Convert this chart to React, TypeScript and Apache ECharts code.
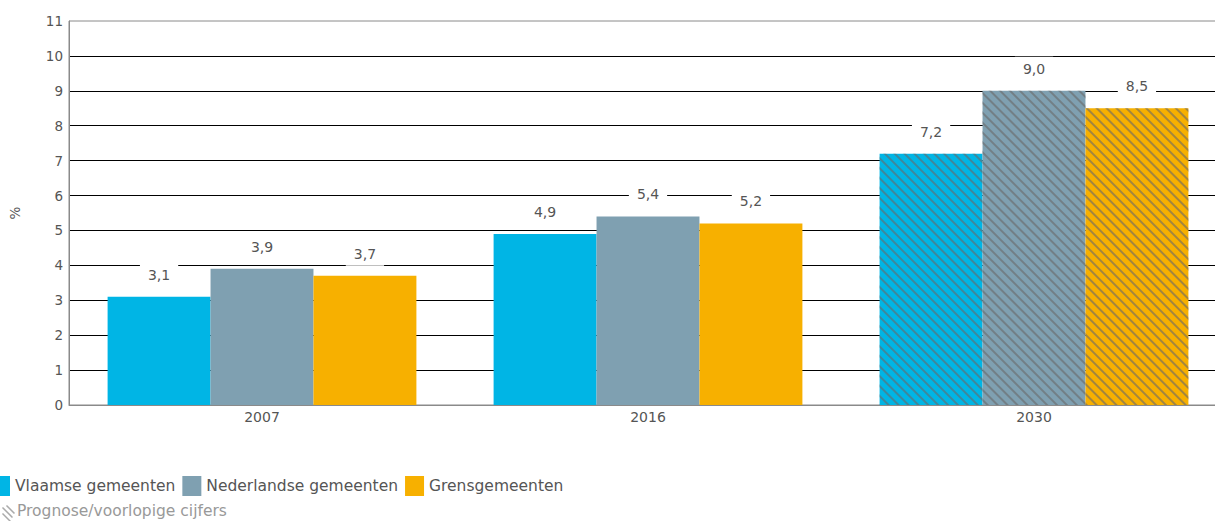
import React, { useEffect, useRef } from "react";
import * as echarts from "echarts";

const categories = ["2007", "2016", "2030"];
const vlaamse = [3.1, 4.9, 7.2];
const nederlandse = [3.9, 5.4, 9.0];
const grens = [3.7, 5.2, 8.5];
const prognose = [false, false, true];
const seriesNames = ["Vlaamse gemeenten", "Nederlandse gemeenten", "Grensgemeenten"];
const colors = ["#00b5e5", "#7fa0b1", "#f7b000"];

const FONT = "DejaVu Sans";

const decal = {
  symbol: "rect",
  symbolSize: 1,
  dashArrayX: [1, 0],
  dashArrayY: [1.4, 4.6],
  rotation: Math.PI / 4,
  color: "rgba(105,105,105,0.6)",
};

function buildData(values: number[]) {
  return values.map((v, i) =>
    prognose[i] ? { value: v, itemStyle: { decal } } : { value: v }
  );
}

const fmt = (p: any) => Number(p.value).toFixed(1).replace(".", ",");

export default function App() {
  const ref = useRef<HTMLDivElement>(null);
  useEffect(() => {
    if (!ref.current) return;
    const chart = echarts.init(ref.current, null, { renderer: "svg" });
    const valuesList = [vlaamse, nederlandse, grens];
    chart.setOption({
      animation: false,
      color: colors,
      textStyle: { fontFamily: FONT },
      grid: {
        left: 67,
        top: 21,
        right: 13,
        bottom: 116,
        show: true,
        borderColor: "#8a8a8a",
        borderWidth: 1,
        backgroundColor: "transparent",
      },
      legend: {
        left: -14,
        top: 471,
        itemWidth: 19,
        itemHeight: 20,
        itemGap: 7,
        icon: "rect",
        textStyle: { fontFamily: FONT, fontSize: 15.5, color: "#555" },
        data: seriesNames,
      },
      xAxis: {
        type: "category",
        data: categories,
        axisLine: { show: true, lineStyle: { color: "#8a8a8a", width: 1 } },
        axisTick: { show: false },
        axisLabel: { fontFamily: FONT, fontSize: 14, color: "#555", margin: 5 },
      },
      yAxis: {
        type: "value",
        min: 0,
        max: 11,
        interval: 1,
        name: "%",
        nameLocation: "middle",
        nameGap: 47,
        nameRotate: 90,
        nameTextStyle: { fontFamily: FONT, fontSize: 13.5, color: "#555" },
        axisLine: { show: true, lineStyle: { color: "#8a8a8a", width: 1 } },
        axisTick: { show: false },
        axisLabel: { fontFamily: FONT, fontSize: 13.5, color: "#555", margin: 6 },
        splitLine: {
          show: true,
          showMinLine: false,
          showMaxLine: false,
          lineStyle: { color: "#000", width: 1 },
        },
      },
      series: seriesNames.map((name, i) => ({
        type: "bar",
        name,
        data: buildData(valuesList[i]),
        barGap: "0%",
        barCategoryGap: "20%",
        label: {
          show: true,
          position: "top",
          distance: 10,
          formatter: fmt,
          fontFamily: FONT,
          fontSize: 14,
          color: "#555",
          backgroundColor: "#fff",
          padding: [5, 8],
        },
      })),
      graphic: [
        {
          type: "group",
          left: 0,
          top: 503,
          children: [
            { type: "line", shape: { x1: 0, y1: 2, x2: 10, y2: 12 }, style: { stroke: "#aaa", lineWidth: 1.5 } },
            { type: "line", shape: { x1: 0, y1: 8, x2: 8, y2: 16 }, style: { stroke: "#aaa", lineWidth: 1.5 } },
            { type: "line", shape: { x1: 4, y1: 0, x2: 12, y2: 8 }, style: { stroke: "#aaa", lineWidth: 1.5 } },
          ],
        },
        {
          type: "text",
          left: 17,
          top: 503,
          style: { text: "Prognose/voorlopige cijfers", fontFamily: FONT, fontSize: 15.5, fill: "#999" },
        },
      ],
    });
    return () => chart.dispose();
  }, []);
  return (
    <div style={{ position: "fixed", left: 0, top: 0, width: 1215, height: 521, overflow: "hidden", background: "#fff" }}>
      <div ref={ref} style={{ position: "absolute", left: 0, top: 0, width: 1240, height: 521 }} />
    </div>
  );
}
